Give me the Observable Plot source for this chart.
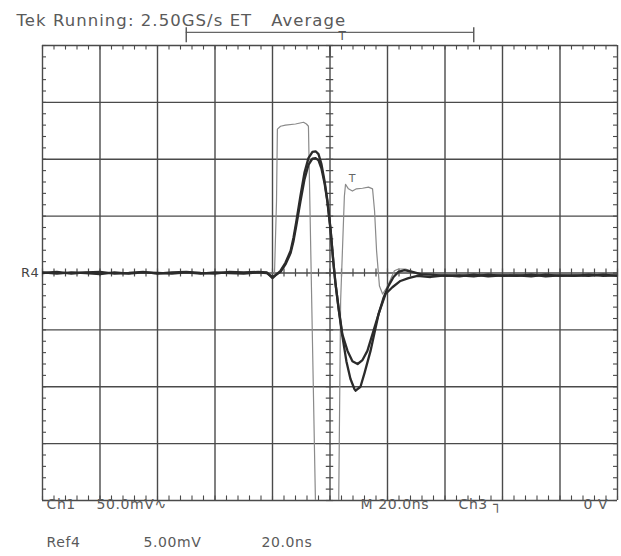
<!DOCTYPE html>
<html>
<head>
<meta charset="utf-8">
<script src="https://cdn.jsdelivr.net/npm/d3@7"></script>
<script src="https://cdn.jsdelivr.net/npm/@observablehq/plot@0.6"></script>
<style>
  html, body { margin: 0; padding: 0; background: #fff; }
  svg text { letter-spacing: 0.6px; }
  .hdr text { letter-spacing: 1.05px; }
</style>
</head>
<body>
<div id="chart"></div>
<script>
// ---- Data (time in ns, amplitude in screen divisions) ----
// Thick trace A (Ch1)
const timesA = [-100,-95,-90,-85,-80,-75,-70,-65,-60,-55,-50,-45,-40,-35,-30,-25,-22,-20,-17.2,-15.5,-13.7,-12.7,-11.7,-10.3,-8.9,-7.5,-6.1,-5.0,-4.0,-3.0,-1.9,-0.9,0.2,1.2,1.9,3.0,4.3,5.7,7.1,8.5,8.9,10.6,12.0,14.1,16.9,19.3,21.7,24.5,27.3,30.4,35,40,45,50,55,60,65,70,75,80,85,90,95,100];
const valuesA = [0,0.02,-0.01,0.01,0.02,-0.01,0,0.02,-0.01,0.01,0.02,0,-0.01,0.02,0.01,0.02,0.01,-0.09,0.04,0.18,0.39,0.62,0.91,1.35,1.76,2.02,2.13,2.14,2.09,1.92,1.62,1.27,0.77,0.18,-0.18,-0.63,-1.11,-1.55,-1.86,-2.04,-2.07,-2.00,-1.76,-1.37,-0.72,-0.37,-0.25,-0.14,-0.09,-0.05,-0.07,-0.04,-0.06,-0.03,-0.06,-0.04,-0.05,-0.03,-0.06,-0.04,-0.05,-0.03,-0.05,-0.04];
// Thick trace B (Ref4)
const timesB = [-100,-95,-90,-85,-80,-75,-70,-65,-60,-55,-50,-45,-40,-35,-30,-25,-22,-20,-17.2,-15.5,-13.7,-12.7,-11.7,-10.3,-8.9,-7.5,-6.1,-5.0,-4.0,-3.0,-1.9,-0.9,0.2,1.2,1.9,3.0,4.3,6.1,7.8,9.6,11.3,13.0,16.5,18.6,20.3,22.1,23.8,25.9,28.7,31.5,35,40,45,50,55,60,65,70,75,80,85,90,95,100];
const valuesB = [0.01,-0.01,0.01,0,-0.02,0.01,-0.01,0.01,0,-0.01,0.01,-0.01,0.01,0,-0.01,0.01,0,-0.07,0.02,0.15,0.35,0.56,0.84,1.25,1.64,1.90,2.01,2.02,1.98,1.84,1.58,1.25,0.75,0.17,-0.18,-0.62,-1.08,-1.37,-1.55,-1.60,-1.53,-1.37,-0.79,-0.44,-0.23,-0.07,0.02,0.05,0.02,-0.02,-0.03,-0.05,-0.04,-0.06,-0.03,-0.05,-0.04,-0.06,-0.03,-0.05,-0.04,-0.05,-0.03,-0.05];
// Thin trace C
const timesC = [-100,-19.3,-18.6,-18.3,-17.2,-15.5,-12.0,-9.2,-8.2,-7.5,-5.0,3.0,3.7,5.0,5.4,6.4,7.8,9.2,11.3,13.4,14.8,15.5,16.2,17.2,18.3,19.7,21.0,22.4,23.8,26.3,28.0,30.8,100];
const valuesC = [0,0,1.27,2.53,2.58,2.60,2.62,2.65,2.62,2.58,-4.18,-4.18,-0.49,1.35,1.56,1.48,1.44,1.48,1.49,1.51,1.48,1.09,0.39,-0.23,-0.37,-0.26,-0.12,0.04,0.07,0.07,0.04,-0.02,-0.04];

// Grid
const gridTimes = [-100,-80,-60,-40,-20,0,20,40,60,80,100];
const gridDivs = [-4,-3,-2,-1,0,1,2,3,4];

// Texts
const headerText = "Tek Running: 2.50GS/s ET   Average";
const footerRow1 = ["Ch1", "50.0mV\u223F", "M 20.0ns", "Ch3 \u2510", "0 V"];
const footerRow2 = ["Ref4", "5.00mV", "20.0ns"];
const refLabel = "R4";
const bracketSpan = [-50, 50];

const toRows = (ts, vs) => ts.map((t, i) => ({t, v: vs[i]}));
const traceA = toRows(timesA, valuesA);
const traceB = toRows(timesB, valuesB);
const traceC = toRows(timesC, valuesC);

const minorT = d3.range(-100, 100.01, 4);
const minorV = d3.range(-4, 4.001, 0.2);

const gridColor = "#4a4a4a";
const textColor = "#5a5a5a";
const font = 14;

const label = (txt, anchor, dx, dy, extra = {}) =>
  Plot.text([txt], {frameAnchor: anchor, text: d => d, dx, dy, textAnchor: "start",
    fontSize: font, fill: textColor, ...extra});

const chart = Plot.plot({
  width: 621,
  height: 556,
  marginLeft: 42,
  marginRight: 4,
  marginTop: 45,
  marginBottom: 56,
  x: {domain: [-100, 100], axis: null},
  y: {domain: [-4, 4], axis: null},
  style: {background: "#fff", fontFamily: "DejaVu Sans"},
  marks: [
    // major grid
    Plot.ruleX(gridTimes, {stroke: gridColor, strokeWidth: 1.4}),
    Plot.ruleY(gridDivs, {stroke: gridColor, strokeWidth: 1.4}),
    // minor ticks on centre lines
    Plot.ruleX(minorT, {y1: -0.07, y2: 0.07, stroke: gridColor, strokeWidth: 1.2}),
    Plot.ruleY(minorV, {x1: -1.3, x2: 1.3, stroke: gridColor, strokeWidth: 1.2}),
    // minor ticks on frame edges
    Plot.ruleX(minorT, {y1: 4, y2: 3.92, stroke: gridColor, strokeWidth: 1.1}),
    Plot.ruleX(minorT, {y1: -4, y2: -3.92, stroke: gridColor, strokeWidth: 1.1}),
    Plot.ruleY(minorV, {x1: -100, x2: -98.6, stroke: gridColor, strokeWidth: 1.1}),
    Plot.ruleY(minorV, {x1: 100, x2: 98.6, stroke: gridColor, strokeWidth: 1.1}),
    // trigger position marker
    Plot.ruleX([0], {y1: 4, y2: 3.8, stroke: gridColor, strokeWidth: 1.5}),
    // record bracket
    Plot.ruleY([4.23], {x1: bracketSpan[0], x2: bracketSpan[1], stroke: "#666", strokeWidth: 1.2}),
    Plot.ruleX(bracketSpan, {y1: 4.05, y2: 4.31, stroke: "#555", strokeWidth: 1.4}),
    Plot.text(["T"], {x: 4.3, y: 4.17, text: d => d, fontSize: 12, fill: "#555"}),
    // traces
    Plot.line(traceC, {x: "t", y: "v", stroke: "#8a8a8a", strokeWidth: 1.2, clip: true}),
    Plot.line(traceB, {x: "t", y: "v", stroke: "#2b2b2b", strokeWidth: 2.3, clip: true}),
    Plot.line(traceA, {x: "t", y: "v", stroke: "#2b2b2b", strokeWidth: 2.3, clip: true}),
    Plot.text(["T"], {x: 7.8, y: 1.66, text: d => d, fontSize: 11, fill: "#666"}),
    // reference marker
    Plot.text([refLabel], {x: -100, y: 0, text: d => d, dx: -3, textAnchor: "end", fontSize: 13, fill: "#444"}),
    // header
    label(headerText, "top-left", -26, -31, {fontSize: 16.5, className: "hdr"}),
    // footer row 1
    label(footerRow1[0], "bottom-left", 4, 8),
    label(footerRow1[1], "bottom-left", 54, 8),
    label(footerRow1[2], "bottom-left", 318, 8),
    label(footerRow1[3], "bottom-left", 416, 8),
    label(footerRow1[4], "bottom-left", 541, 8),
    // footer row 2
    label(footerRow2[0], "bottom-left", 4, 46),
    label(footerRow2[1], "bottom-left", 101, 46),
    label(footerRow2[2], "bottom-left", 219, 46)
  ]
});
document.getElementById("chart").appendChild(chart);
</script>
</body>
</html>
